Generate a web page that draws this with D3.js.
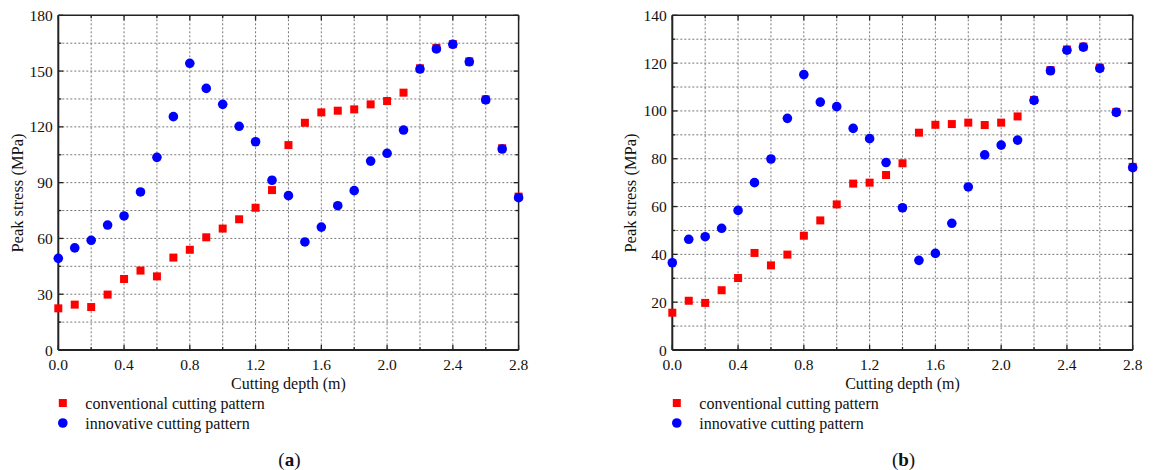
<!DOCTYPE html>
<html>
<head>
<meta charset="utf-8">
<script src="https://cdn.jsdelivr.net/npm/d3@7"></script>
<style>
  body { margin: 0; background: #fff; }
  svg { display: block; }
  text { font-family: 'Liberation Serif', 'Times New Roman', Times, serif; fill: #111; }
  .grid line { stroke: #777; stroke-width: 1; stroke-dasharray: 2,2; }
</style>
</head>
<body>
<svg id="chart" width="1157" height="470"></svg>
<script>
// cutting depth (m)
let depths = [0.0, 0.1, 0.2, 0.3, 0.4, 0.5, 0.6, 0.7, 0.8, 0.9, 1.0, 1.1, 1.2, 1.3, 1.4,
  1.5, 1.6, 1.7, 1.8, 1.9, 2.0, 2.1, 2.2, 2.3, 2.4, 2.5, 2.6, 2.7, 2.8];

// panel (a) peak stress (MPa)
let conv_a = [22.4, 24.4, 23.1, 29.8, 38.2, 42.7, 39.6, 49.7, 53.9, 60.6, 65.3, 70.3, 76.5, 86.0, 110.2,
  122.2, 127.8, 128.7, 129.4, 132.1, 133.9, 138.4, 151.5, 162.5, 164.5, 155.2, 134.8, 108.5, 82.5];
let inno_a = [49.3, 54.9, 59.0, 67.2, 72.1, 85.0, 103.6, 125.5, 154.2, 140.7, 132.1, 120.3, 112.0, 91.3, 83.0,
  58.1, 66.1, 77.6, 85.7, 101.6, 105.8, 118.3, 151.1, 161.9, 164.4, 155.0, 134.5, 108.1, 81.9];

// panel (b) peak stress (MPa)
let conv_b = [15.6, 20.6, 19.7, 25.0, 30.1, 40.6, 35.4, 39.9, 47.8, 54.2, 60.9, 69.6, 70.0, 73.2, 78.1,
  90.9, 94.2, 94.5, 95.1, 94.1, 95.1, 97.7, 104.6, 117.1, 125.7, 126.9, 118.1, 99.6, 76.6];
let inno_b = [36.5, 46.3, 47.4, 50.9, 58.4, 70.0, 79.9, 96.9, 115.2, 103.7, 101.8, 92.7, 88.4, 78.4, 59.5,
  37.5, 40.4, 53.0, 68.2, 81.6, 85.7, 87.8, 104.4, 116.8, 125.4, 126.7, 117.8, 99.4, 76.3];

let xTicks = [0.0, 0.4, 0.8, 1.2, 1.6, 2.0, 2.4, 2.8];
let yTicks_a = [0, 30, 60, 90, 120, 150, 180];
let yTicks_b = [0, 20, 40, 60, 80, 100, 120, 140];
let seriesNames = ["conventional cutting pattern", "innovative cutting pattern"];

let svg = d3.select("#chart");

function drawPanel(left, right, yMax, yStep, yTicks, conv, inno, yTitleX, label) {
  let top = 15.3, bottom = 350;
  let x = d3.scaleLinear().domain([0, 2.8]).range([left, right]);
  let y = d3.scaleLinear().domain([0, yMax]).range([bottom, top]);
  let g = svg.append("g");

  // dotted grid
  let xGrid = d3.range(0.2, 2.7, 0.2);
  let yGrid = d3.range(yStep, yMax - 0.01, yStep);
  let grid = g.append("g").attr("class", "grid");
  grid.selectAll(".gx").data(xGrid).enter().append("line")
    .attr("x1", d => x(d)).attr("x2", d => x(d))
    .attr("y1", top).attr("y2", bottom);
  grid.selectAll(".gy").data(yGrid).enter().append("line")
    .attr("x1", left).attr("x2", right)
    .attr("y1", d => y(d)).attr("y2", d => y(d));

  // inner ticks on all four sides
  let allX = d3.range(0, 2.81, 0.2);
  let allY = d3.range(0, yMax + 0.01, yStep);
  let ticks = g.append("g").attr("stroke", "#222").attr("stroke-width", 1.3);
  allX.forEach(function(d, i) {
    let len = i % 2 == 0 ? 5 : 3;
    ticks.append("line").attr("x1", x(d)).attr("x2", x(d)).attr("y1", bottom).attr("y2", bottom - len);
    ticks.append("line").attr("x1", x(d)).attr("x2", x(d)).attr("y1", top).attr("y2", top + len);
  });
  allY.forEach(function(d, i) {
    let len = i % 2 == 0 ? 5 : 3;
    ticks.append("line").attr("x1", left).attr("x2", left + len).attr("y1", y(d)).attr("y2", y(d));
    ticks.append("line").attr("x1", right).attr("x2", right - len).attr("y1", y(d)).attr("y2", y(d));
  });

  // frame
  g.append("line").attr("x1", left).attr("x2", right).attr("y1", top).attr("y2", top)
    .attr("stroke", "#222").attr("stroke-width", 1.5);
  g.append("line").attr("x1", right).attr("x2", right).attr("y1", top).attr("y2", bottom)
    .attr("stroke", "#222").attr("stroke-width", 1.5);
  g.append("line").attr("x1", left).attr("x2", right).attr("y1", bottom).attr("y2", bottom)
    .attr("stroke", "#222").attr("stroke-width", 2);
  g.append("line").attr("x1", left).attr("x2", left).attr("y1", top).attr("y2", bottom)
    .attr("stroke", "#222").attr("stroke-width", 2);

  // tick labels
  g.selectAll(".xl").data(xTicks).enter().append("text")
    .attr("x", d => x(d)).attr("y", 370)
    .attr("text-anchor", "middle").attr("font-size", 15.5)
    .text(d => d.toFixed(1));
  g.selectAll(".yl").data(yTicks).enter().append("text")
    .attr("x", left - 5.5).attr("y", d => y(d) + 5.5)
    .attr("text-anchor", "end").attr("font-size", 15.5)
    .text(d => d);

  // axis titles
  let cx = (left + right) / 2;
  g.append("text").attr("x", cx).attr("y", 389)
    .attr("text-anchor", "middle").attr("font-size", 16)
    .text("Cutting depth (m)");
  g.append("text")
    .attr("transform", "translate(" + yTitleX + ",193) rotate(-90)")
    .attr("text-anchor", "middle").attr("font-size", 16.5)
    .text("Peak stress (MPa)");

  // markers
  g.selectAll(".conv").data(conv).enter().append("rect")
    .attr("x", (d, i) => x(depths[i]) - 4).attr("y", d => y(d) - 4)
    .attr("width", 8).attr("height", 8).attr("fill", "#ff0000");
  g.selectAll(".inno").data(inno).enter().append("circle")
    .attr("cx", (d, i) => x(depths[i])).attr("cy", d => y(d))
    .attr("r", 4.8).attr("fill", "#0000ff");

  // legend
  let lx = left + 4.5;
  g.append("rect").attr("x", lx - 4).attr("y", 399).attr("width", 8).attr("height", 8).attr("fill", "#ff0000");
  g.append("text").attr("x", left + 27).attr("y", 408.5).attr("font-size", 16).text(seriesNames[0]);
  g.append("circle").attr("cx", lx).attr("cy", 423).attr("r", 4.8).attr("fill", "#0000ff");
  g.append("text").attr("x", left + 27).attr("y", 428.5).attr("font-size", 16).text(seriesNames[1]);

  // panel label
  let lab = g.append("text").attr("x", cx + 1).attr("y", 466)
    .attr("text-anchor", "middle").attr("font-size", 19);
  lab.append("tspan").text("(");
  lab.append("tspan").attr("font-weight", "bold").text(label);
  lab.append("tspan").text(")");
}

drawPanel(58.3, 518.6, 180, 15, yTicks_a, conv_a, inno_a, 23, "a");
drawPanel(672.3, 1132.7, 140, 10, yTicks_b, conv_b, inno_b, 636, "b");
</script>
</body>
</html>
